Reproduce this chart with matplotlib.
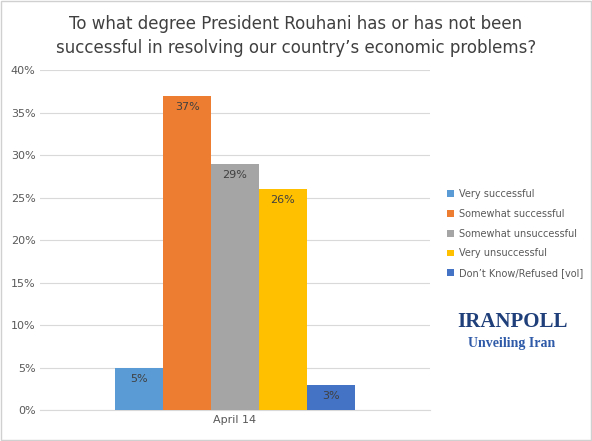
import matplotlib
matplotlib.use("Agg")
import matplotlib.pyplot as plt
from matplotlib.patches import Rectangle

categories = ["April 14"]
series = ["Very successful", "Somewhat successful", "Somewhat unsuccessful",
          "Very unsuccessful", "Don\u2019t Know/Refused [vol]"]
values = [5, 37, 29, 26, 3]
colors = ["#5B9BD5", "#ED7D31", "#A5A5A5", "#FFC000", "#4472C4"]

fig = plt.figure(figsize=(5.92, 4.41), dpi=100)
fig.patches.append(Rectangle((0.002, 0.002), 0.996, 0.996, transform=fig.transFigure,
                             fill=False, edgecolor="#D0D0D0", lw=1))
ax = fig.add_axes([0.068, 0.070, 0.658, 0.771])
w = 0.123
for i, (s, v, c) in enumerate(zip(series, values, colors)):
    x = (i - 2) * w
    ax.bar(x, v, width=w, color=c, label=s, zorder=3)
    ax.text(x, v - 1.3, f"{v}%", ha="center", va="center", fontsize=8, color="#404040", zorder=4)
ax.set_xlim(-0.5, 0.5)
ax.set_ylim(0, 40)
ax.set_yticks(range(0, 41, 5))
ax.set_yticklabels([f"{t}%" for t in range(0, 41, 5)], fontsize=8, color="#595959")
ax.set_xticks([0])
ax.set_xticklabels(categories, fontsize=8, color="#595959")
ax.tick_params(length=0)
ax.grid(axis="y", color="#D9D9D9", lw=0.8, zorder=0)
for sp in ["top", "right", "left"]:
    ax.spines[sp].set_visible(False)
ax.spines["bottom"].set_color("#D9D9D9")
fig.text(0.5, 0.918, "To what degree President Rouhani has or has not been\nsuccessful in resolving our country\u2019s economic problems?",
         ha="center", va="center", fontsize=12, color="#404040", linespacing=1.4)
fig.legend(loc="center left", bbox_to_anchor=(0.74, 0.47), frameon=False, fontsize=7,
           handlelength=0.7, handleheight=0.7, handletextpad=0.6, labelcolor="#595959",
           labelspacing=1.0)
fig.text(0.865, 0.27, "IRANPOLL", ha="center", va="center", fontsize=15, color="#1F3F7A",
         family="Liberation Serif", weight="bold")
fig.text(0.865, 0.22, "Unveiling Iran", ha="center", va="center", fontsize=10, color="#2E5AA8",
         family="Liberation Serif", weight="bold")
fig.savefig("out.png", dpi=100)
